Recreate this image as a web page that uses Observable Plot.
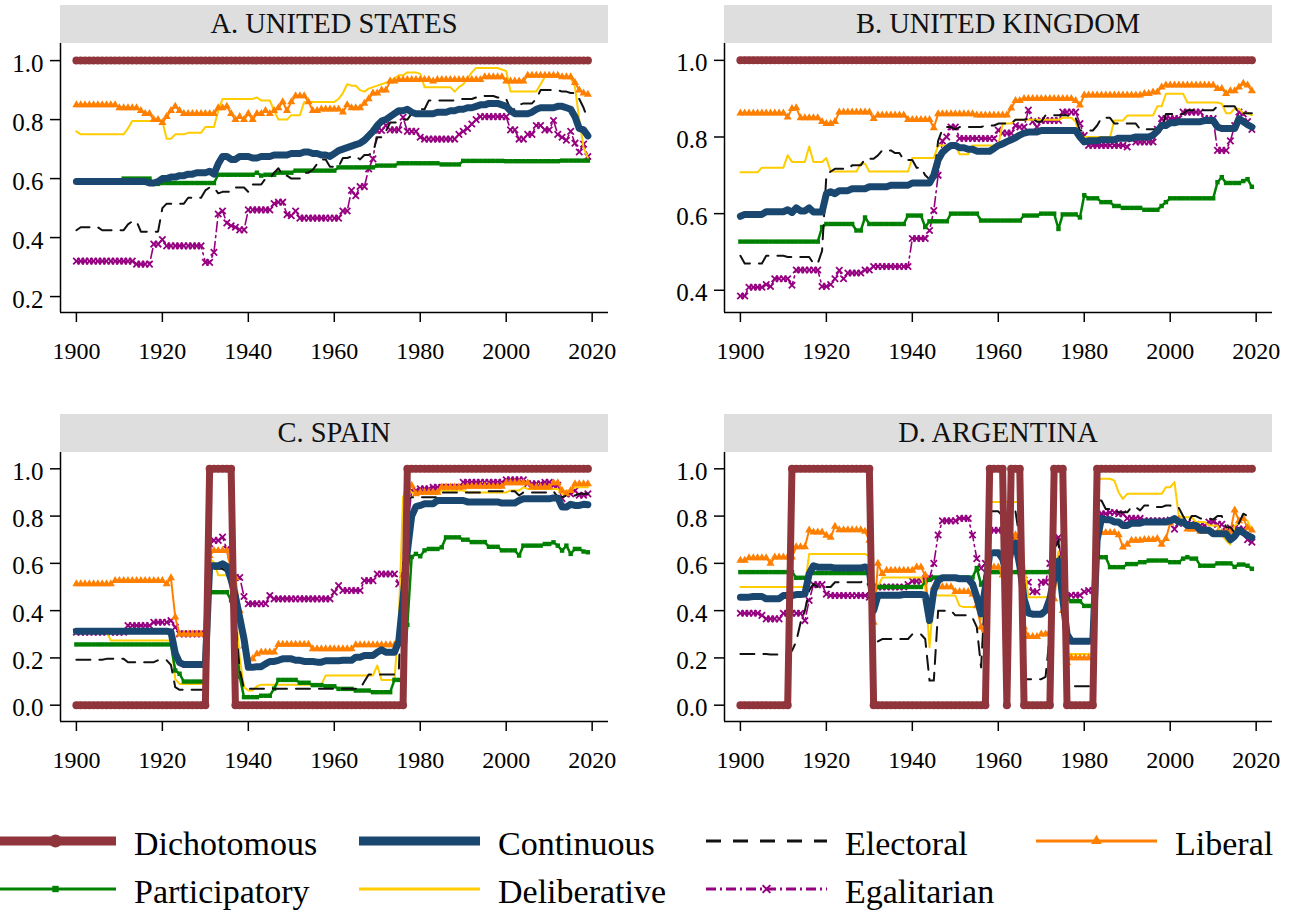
<!DOCTYPE html>
<html>
<head>
<meta charset="utf-8">
<script src="https://cdn.jsdelivr.net/npm/d3@7"></script>
<script src="https://cdn.jsdelivr.net/npm/@observablehq/plot@0.6"></script>
<style>
  html, body { margin: 0; padding: 0; background: #fff; }
  #chart { position: relative; width: 1300px; height: 913px; overflow: hidden;
           font-family: "Liberation Serif", "Times New Roman", serif; }
  #chart svg, #chart svg text { font-family: "Liberation Serif", "Times New Roman", serif !important; }
  .strip { position: absolute; height: 38px; line-height: 38px; background: #dedede;
           color: #111; text-align: center; font-size: 28.5px; }
  .panel { position: absolute; }
  .panel svg { overflow: visible; }
</style>
</head>
<body>
<div id="chart"></div>
<script>
// ---- Measures of democracy, 1900-2019 ----
// Each series is a list of runs: [first year of the run, index value held through that run].
const firstYear = 1900, lastYear = 2019;
const seriesNames = ["Dichotomous", "Continuous", "Electoral", "Liberal", "Participatory", "Deliberative", "Egalitarian"];
const panelTitles = ["A. UNITED STATES", "B. UNITED KINGDOM", "C. SPAIN", "D. ARGENTINA"];
const xTicks = [1900, 1920, 1940, 1960, 1980, 2000, 2020];
const yTicksA = [0.2, 0.4, 0.6, 0.8, 1.0];
const yTicksB = [0.4, 0.6, 0.8, 1.0];
const yTicksCD = [0, 0.2, 0.4, 0.6, 0.8, 1.0];

// United States
const usDichotomous = [[1900, 1]];
const usContinuous = [[1900,.59],[1917,.585],[1919,.59],[1920,.60],[1922,.605],[1924,.61],[1926,.615],[1928,.62],[1931,.625],[1932,.615],[1933,.65],[1934,.675],[1936,.665],[1938,.675],[1941,.67],[1943,.675],[1946,.68],[1950,.685],[1953,.69],[1955,.685],[1957,.68],[1959,.675],[1960,.685],[1961,.695],[1962,.70],[1963,.705],[1964,.71],[1965,.715],[1966,.72],[1967,.73],[1968,.745],[1969,.76],[1970,.78],[1971,.795],[1972,.80],[1973,.81],[1974,.82],[1975,.83],[1977,.835],[1978,.825],[1979,.82],[1984,.825],[1987,.83],[1989,.835],[1991,.84],[1993,.845],[1994,.85],[1996,.855],[1999,.85],[2000,.845],[2001,.83],[2002,.82],[2006,.825],[2007,.835],[2008,.84],[2012,.845],[2014,.84],[2015,.835],[2016,.81],[2017,.77],[2018,.765],[2019,.745]];
const usElectoral = [[1900,.425],[1901,.435],[1906,.425],[1912,.445],[1913,.455],[1915,.42],[1920,.50],[1921,.515],[1926,.535],[1930,.56],[1931,.57],[1933,.55],[1934,.555],[1937,.57],[1940,.555],[1941,.58],[1944,.60],[1946,.62],[1947,.635],[1948,.61],[1950,.60],[1953,.62],[1955,.63],[1956,.65],[1957,.665],[1959,.64],[1962,.67],[1964,.675],[1966,.665],[1967,.68],[1969,.69],[1970,.74],[1972,.76],[1973,.79],[1976,.80],[1978,.82],[1980,.835],[1982,.865],[1987,.865],[1989,.87],[1993,.875],[1995,.88],[1998,.875],[2000,.87],[2001,.835],[2003,.85],[2004,.855],[2007,.87],[2008,.90],[2013,.895],[2015,.89],[2017,.87],[2018,.84],[2019,.80]];
const usLiberal = [[1900,.85],[1910,.84],[1915,.83],[1916,.82],[1918,.80],[1920,.79],[1921,.81],[1922,.83],[1923,.845],[1924,.83],[1925,.82],[1933,.84],[1935,.845],[1936,.82],[1937,.80],[1938,.81],[1939,.80],[1940,.82],[1941,.80],[1942,.82],[1944,.83],[1945,.82],[1946,.83],[1947,.84],[1948,.86],[1949,.83],[1950,.86],[1951,.88],[1954,.86],[1955,.83],[1957,.835],[1962,.825],[1963,.85],[1964,.84],[1967,.855],[1968,.87],[1969,.89],[1971,.90],[1973,.93],[1975,.935],[1983,.93],[1984,.935],[1995,.945],[2000,.93],[2005,.95],[2013,.945],[2016,.925],[2017,.90],[2018,.89],[2019,.885]];
const usParticipatory = [[1900,.59],[1911,.60],[1918,.582],[1920,.585],[1933,.613],[1942,.62],[1943,.61],[1944,.613],[1947,.62],[1951,.627],[1961,.638],[1970,.644],[1975,.652],[1985,.648],[1990,.66],[2000,.659],[2013,.661]];
const usDeliberative = [[1900,.76],[1901,.75],[1912,.77],[1913,.795],[1921,.735],[1923,.75],[1926,.755],[1930,.775],[1933,.83],[1934,.87],[1942,.875],[1943,.865],[1946,.83],[1947,.80],[1950,.815],[1953,.86],[1961,.87],[1962,.89],[1963,.92],[1964,.915],[1966,.90],[1967,.895],[1968,.905],[1969,.91],[1970,.915],[1971,.92],[1972,.925],[1973,.93],[1974,.94],[1975,.95],[1977,.96],[1980,.955],[1981,.91],[1988,.895],[1989,.91],[1990,.92],[1991,.94],[1992,.96],[1993,.975],[1999,.97],[2000,.965],[2001,.895],[2008,.92],[2009,.945],[2015,.94],[2016,.91],[2017,.80],[2018,.705],[2019,.67]];
const usEgalitarian = [[1900,.32],[1914,.31],[1918,.378],[1920,.393],[1921,.372],[1930,.316],[1932,.35],[1933,.48],[1934,.49],[1935,.45],[1936,.44],[1937,.435],[1938,.426],[1940,.494],[1946,.515],[1947,.52],[1949,.478],[1950,.474],[1951,.49],[1952,.466],[1962,.49],[1964,.56],[1965,.542],[1966,.573],[1968,.633],[1969,.667],[1970,.763],[1972,.78],[1973,.765],[1976,.808],[1977,.76],[1980,.74],[1981,.734],[1989,.75],[1990,.76],[1991,.77],[1992,.785],[1993,.80],[1994,.81],[2001,.765],[2003,.734],[2005,.75],[2007,.78],[2009,.765],[2011,.797],[2012,.75],[2013,.74],[2014,.73],[2015,.76],[2016,.72],[2017,.69],[2018,.717],[2019,.675]];

// United Kingdom
const ukDichotomous = [[1900, 1]];
const ukContinuous = [[1900,.593],[1901,.598],[1906,.605],[1911,.61],[1912,.603],[1913,.615],[1914,.607],[1916,.615],[1917,.604],[1920,.652],[1921,.657],[1922,.652],[1923,.66],[1926,.665],[1930,.67],[1935,.674],[1940,.68],[1945,.70],[1946,.74],[1947,.76],[1948,.77],[1949,.778],[1951,.772],[1953,.768],[1955,.763],[1959,.77],[1960,.778],[1961,.782],[1962,.788],[1963,.793],[1964,.798],[1965,.805],[1966,.81],[1967,.813],[1970,.817],[1979,.80],[1980,.787],[1981,.79],[1984,.793],[1988,.797],[1992,.80],[1996,.805],[1997,.815],[1998,.83],[2000,.837],[2002,.84],[2008,.843],[2011,.826],[2012,.822],[2016,.848],[2017,.84],[2018,.832],[2019,.826]];
const ukElectoral = [[1900,.49],[1901,.47],[1906,.49],[1911,.487],[1917,.47],[1919,.503],[1920,.70],[1921,.71],[1922,.717],[1926,.726],[1929,.743],[1932,.752],[1933,.765],[1936,.758],[1938,.74],[1941,.72],[1943,.70],[1944,.69],[1946,.79],[1947,.82],[1948,.826],[1950,.82],[1951,.826],[1957,.83],[1960,.835],[1964,.845],[1967,.848],[1969,.84],[1971,.857],[1977,.85],[1979,.817],[1983,.83],[1984,.85],[1987,.835],[1993,.82],[1999,.86],[2004,.87],[2011,.88],[2016,.862]];
const ukLiberal = [[1900,.862],[1911,.852],[1912,.874],[1913,.876],[1914,.85],[1919,.84],[1920,.835],[1922,.84],[1923,.865],[1931,.848],[1932,.857],[1939,.845],[1945,.824],[1946,.86],[1955,.857],[1963,.875],[1964,.895],[1966,.90],[1978,.895],[1979,.883],[1980,.909],[1994,.913],[1996,.917],[1998,.93],[1999,.935],[2011,.926],[2013,.913],[2014,.92],[2016,.93],[2017,.94],[2018,.935],[2019,.92]];
const ukParticipatory = [[1900,.527],[1919,.565],[1920,.573],[1927,.556],[1929,.59],[1930,.573],[1939,.595],[1943,.565],[1944,.58],[1949,.60],[1956,.582],[1966,.595],[1970,.60],[1974,.56],[1975,.598],[1979,.59],[1980,.648],[1981,.64],[1984,.63],[1987,.62],[1989,.615],[1994,.61],[1998,.62],[1999,.63],[2000,.64],[2011,.682],[2012,.695],[2013,.68],[2017,.685],[2018,.69],[2019,.67]];
const ukDeliberative = [[1900,.708],[1905,.72],[1911,.752],[1912,.735],[1916,.775],[1917,.735],[1920,.745],[1921,.71],[1928,.73],[1930,.71],[1940,.745],[1946,.778],[1951,.755],[1954,.778],[1961,.835],[1964,.845],[1975,.85],[1978,.84],[1979,.80],[1987,.843],[1990,.856],[1997,.88],[1999,.913],[2004,.89],[2012,.887],[2013,.862],[2015,.874],[2017,.862],[2019,.857]];
const ukEgalitarian = [[1900,.385],[1902,.408],[1906,.415],[1907,.41],[1908,.43],[1912,.413],[1913,.453],[1919,.41],[1921,.415],[1922,.43],[1923,.452],[1924,.43],[1925,.445],[1929,.453],[1931,.462],[1940,.535],[1944,.556],[1945,.608],[1946,.70],[1947,.79],[1948,.80],[1949,.826],[1951,.796],[1960,.818],[1961,.81],[1964,.83],[1965,.826],[1967,.87],[1968,.84],[1969,.826],[1970,.843],[1975,.865],[1979,.835],[1980,.804],[1981,.778],[1990,.774],[1991,.795],[1992,.787],[1997,.82],[1998,.848],[2003,.865],[2008,.848],[2011,.765],[2014,.79],[2015,.83],[2016,.865],[2017,.86],[2018,.84],[2019,.82]];

// Spain
const esDichotomous = [[1900,0],[1931,1],[1937,0],[1977,1]];
const esContinuous = [[1900,.313],[1922,.31],[1923,.22],[1924,.18],[1925,.172],[1931,.59],[1934,.598],[1935,.587],[1936,.53],[1937,.46],[1938,.37],[1939,.28],[1940,.16],[1942,.163],[1944,.175],[1945,.185],[1947,.19],[1948,.196],[1951,.19],[1953,.185],[1956,.182],[1958,.188],[1962,.19],[1965,.203],[1967,.21],[1970,.224],[1971,.234],[1972,.224],[1975,.27],[1976,.45],[1977,.65],[1978,.80],[1979,.84],[1980,.845],[1981,.852],[1984,.866],[1991,.86],[1999,.855],[2003,.866],[2004,.873],[2011,.877],[2013,.838],[2015,.85],[2016,.845],[2018,.85],[2019,.848]];
const esElectoral = [[1900,.192],[1907,.196],[1912,.182],[1919,.19],[1922,.17],[1923,.076],[1924,.065],[1931,.57],[1932,.577],[1935,.565],[1936,.50],[1937,.35],[1938,.15],[1939,.07],[1967,.10],[1968,.13],[1975,.14],[1976,.60],[1977,.866],[1978,.88],[1985,.90],[1996,.905],[2003,.887],[2004,.90],[2011,.905],[2012,.88],[2014,.887],[2017,.894]];
const esLiberal = [[1900,.513],[1909,.527],[1921,.513],[1922,.538],[1923,.372],[1924,.30],[1931,.633],[1932,.654],[1936,.57],[1937,.54],[1938,.40],[1939,.25],[1940,.196],[1942,.217],[1943,.224],[1947,.257],[1955,.238],[1965,.255],[1975,.262],[1976,.55],[1977,.908],[1978,.93],[1979,.894],[1980,.90],[1985,.922],[1991,.925],[2000,.94],[2006,.922],[2011,.94],[2013,.908],[2014,.894],[2015,.908],[2016,.936]];
const esParticipatory = [[1900,.257],[1923,.147],[1924,.133],[1925,.10],[1931,.478],[1936,.443],[1937,.30],[1938,.12],[1939,.034],[1943,.04],[1946,.07],[1947,.107],[1952,.095],[1955,.085],[1958,.08],[1961,.069],[1965,.062],[1969,.055],[1974,.107],[1977,.34],[1978,.627],[1979,.64],[1980,.63],[1981,.655],[1982,.661],[1985,.668],[1986,.71],[1990,.70],[1992,.69],[1996,.67],[1999,.655],[2003,.633],[2004,.675],[2009,.682],[2011,.689],[2012,.675],[2013,.654],[2014,.675],[2015,.64],[2016,.661],[2018,.65],[2019,.647]];
const esDeliberative = [[1900,.31],[1908,.274],[1923,.11],[1924,.09],[1931,.62],[1932,.605],[1933,.55],[1936,.527],[1937,.40],[1938,.20],[1939,.076],[1940,.062],[1942,.08],[1943,.087],[1958,.126],[1970,.168],[1971,.107],[1975,.35],[1976,.88],[1977,.922],[1978,.90],[1979,.894],[1985,.908],[1991,.90],[2001,.908],[2004,.922],[2005,.915],[2013,.894],[2014,.908],[2016,.922]];
const esEgalitarian = [[1900,.309],[1912,.337],[1918,.351],[1922,.358],[1923,.33],[1924,.302],[1931,.683],[1932,.697],[1934,.711],[1935,.66],[1936,.56],[1937,.54],[1939,.46],[1940,.429],[1945,.464],[1946,.45],[1960,.478],[1961,.506],[1962,.485],[1967,.527],[1970,.555],[1975,.513],[1976,.55],[1977,.74],[1978,.908],[1980,.915],[1983,.922],[1990,.943],[2000,.953],[2005,.937],[2009,.943],[2011,.93],[2013,.874],[2014,.894],[2016,.908],[2017,.888],[2019,.894]];

// Argentina
const arDichotomous = [[1900,0],[1912,1],[1931,0],[1958,1],[1962,0],[1963,1],[1966,0],[1973,1],[1976,0],[1983,1]];
const arContinuous = [[1900,.457],[1903,.46],[1906,.45],[1910,.464],[1913,.468],[1915,.47],[1916,.556],[1917,.59],[1918,.584],[1922,.58],[1929,.585],[1930,.575],[1931,.40],[1932,.465],[1938,.468],[1943,.465],[1944,.358],[1945,.485],[1946,.527],[1947,.539],[1951,.535],[1954,.513],[1955,.457],[1956,.386],[1957,.50],[1958,.64],[1959,.645],[1961,.62],[1962,.55],[1963,.66],[1964,.685],[1965,.59],[1966,.45],[1967,.39],[1968,.385],[1971,.40],[1972,.45],[1973,.54],[1974,.61],[1975,.45],[1976,.30],[1977,.27],[1982,.275],[1983,.70],[1984,.79],[1985,.785],[1987,.775],[1989,.76],[1991,.77],[1994,.775],[2000,.78],[2001,.79],[2002,.775],[2004,.76],[2007,.74],[2010,.725],[2014,.70],[2015,.715],[2016,.74],[2017,.73],[2018,.718],[2019,.71]];
const arElectoral = [[1900,.217],[1907,.214],[1912,.23],[1913,.27],[1914,.35],[1915,.40],[1916,.485],[1917,.513],[1918,.50],[1922,.52],[1929,.53],[1930,.50],[1931,.25],[1932,.27],[1933,.28],[1940,.30],[1943,.28],[1944,.104],[1946,.40],[1950,.38],[1954,.37],[1955,.33],[1956,.16],[1957,.50],[1958,.82],[1961,.80],[1962,.60],[1963,.80],[1964,.82],[1965,.70],[1966,.11],[1971,.12],[1972,.30],[1973,.65],[1974,.70],[1975,.40],[1976,.08],[1983,.866],[1985,.83],[1988,.816],[1991,.838],[1993,.824],[1994,.845],[1996,.838],[1999,.845],[2001,.835],[2003,.80],[2004,.767],[2005,.80],[2007,.79],[2010,.785],[2011,.80],[2013,.753],[2015,.73],[2016,.77],[2017,.81],[2018,.80],[2019,.795]];
const arLiberal = [[1900,.612],[1902,.623],[1907,.60],[1908,.626],[1913,.67],[1916,.74],[1917,.732],[1920,.718],[1921,.71],[1922,.756],[1923,.742],[1929,.735],[1930,.697],[1931,.35],[1932,.60],[1933,.556],[1934,.57],[1941,.584],[1943,.55],[1944,.365],[1945,.50],[1950,.48],[1954,.47],[1955,.42],[1956,.33],[1957,.27],[1958,.584],[1961,.55],[1962,.45],[1963,.65],[1964,.72],[1965,.60],[1966,.33],[1967,.29],[1970,.30],[1972,.31],[1973,.45],[1974,.60],[1975,.40],[1976,.18],[1977,.20],[1983,.73],[1988,.72],[1989,.668],[1990,.68],[1991,.697],[1994,.70],[1997,.705],[1998,.68],[1999,.705],[2000,.77],[2001,.785],[2003,.77],[2004,.745],[2007,.735],[2010,.73],[2013,.735],[2015,.825],[2016,.78],[2017,.79],[2018,.75],[2019,.74]];
const arParticipatory = [[1900,.563],[1913,.539],[1916,.559],[1931,.50],[1943,.52],[1944,.53],[1945,.54],[1955,.58],[1956,.51],[1957,.54],[1958,.563],[1975,.50],[1976,.45],[1977,.44],[1980,.42],[1983,.626],[1985,.626],[1986,.584],[1990,.597],[1993,.605],[1995,.612],[2000,.605],[2003,.62],[2004,.626],[2005,.62],[2007,.59],[2011,.60],[2015,.585],[2016,.595],[2018,.59],[2019,.577]];
const arDeliberative = [[1900,.50],[1916,.64],[1930,.63],[1931,.457],[1932,.50],[1933,.54],[1943,.50],[1944,.245],[1945,.47],[1946,.464],[1951,.42],[1952,.415],[1956,.36],[1957,.50],[1958,.86],[1966,.60],[1967,.457],[1972,.46],[1973,.55],[1974,.65],[1975,.52],[1976,.217],[1983,.95],[1984,.958],[1987,.95],[1988,.90],[1989,.873],[1990,.894],[1999,.922],[2001,.944],[2002,.80],[2003,.795],[2006,.775],[2009,.76],[2012,.72],[2013,.697],[2014,.68],[2015,.76],[2016,.77],[2017,.79],[2018,.78],[2019,.74]];
const arEgalitarian = [[1900,.389],[1905,.38],[1906,.365],[1910,.389],[1915,.358],[1916,.443],[1917,.51],[1920,.47],[1921,.464],[1930,.457],[1931,.50],[1939,.51],[1940,.525],[1943,.535],[1944,.539],[1945,.60],[1946,.72],[1947,.78],[1951,.79],[1954,.72],[1955,.62],[1956,.58],[1957,.60],[1958,.74],[1962,.72],[1963,.70],[1964,.704],[1965,.62],[1966,.55],[1967,.52],[1968,.48],[1970,.52],[1972,.60],[1973,.70],[1974,.71],[1975,.55],[1976,.46],[1977,.465],[1980,.48],[1981,.485],[1983,.81],[1986,.815],[1988,.81],[1990,.79],[1994,.78],[2000,.783],[2001,.745],[2002,.77],[2005,.765],[2007,.76],[2009,.775],[2011,.765],[2013,.735],[2014,.75],[2016,.745],[2018,.70],[2019,.69]];

// ---- helpers ----
// expand a run list into one record per year
function yearly(runs) {
  const out = [];
  runs.forEach(([y0, v], i) => {
    const y1 = i + 1 < runs.length ? runs[i + 1][0] : lastYear + 1;
    for (let y = y0; y < y1; ++y) out.push({year: y, value: v});
  });
  return out;
}

const serif = "'Liberation Serif', 'Times New Roman', serif";
const styles = {
  Dichotomous:   {color: "#90353b", width: 7, marker: {symbol: "circle", r: 4, fill: true, legendR: 6.5}},
  Continuous:    {color: "#1a476f", width: 7},
  Electoral:     {color: "#111111", width: 2, dash: "14,9"},
  Liberal:       {color: "#ff7f00", width: 2, marker: {symbol: "triangle", r: 3, fill: true, legendR: 4}},
  Participatory: {color: "#008000", width: 2.5, marker: {symbol: "square", r: 2.5, fill: true, legendR: 3.6}},
  Deliberative:  {color: "#ffcc00", width: 2},
  Egalitarian:   {color: "#960080", width: 1.6, dash: "10,4,2,4", marker: {symbol: "times", r: 3, fill: false, legendR: 3.6}}
};

const panels = [
  {title: panelTitles[0], left: 0,   top: 5,   ticks: yTicksA,  domain: [0.146, 1.058],
   data: [usDichotomous, usContinuous, usElectoral, usLiberal, usParticipatory, usDeliberative, usEgalitarian]},
  {title: panelTitles[1], left: 664, top: 5,   ticks: yTicksB,  domain: [0.342, 1.044],
   data: [ukDichotomous, ukContinuous, ukElectoral, ukLiberal, ukParticipatory, ukDeliberative, ukEgalitarian]},
  {title: panelTitles[2], left: 0,   top: 414, ticks: yTicksCD, domain: [-0.069, 1.069],
   data: [esDichotomous, esContinuous, esElectoral, esLiberal, esParticipatory, esDeliberative, esEgalitarian]},
  {title: panelTitles[3], left: 664, top: 414, ticks: yTicksCD, domain: [-0.069, 1.069],
   data: [arDichotomous, arContinuous, arElectoral, arLiberal, arParticipatory, arDeliberative, arEgalitarian]}
];

const chart = document.getElementById("chart");
const xDomain = [1896.3, 2023.8];
const W = 620, mL = 60, mR = 12, mT = 10, mB = 60, plotH = 269, stripH = 38;

for (const p of panels) {
  // title strip above the plotting area
  const strip = document.createElement("div");
  strip.className = "strip";
  strip.style.left = (p.left + mL) + "px";
  strip.style.top = p.top + "px";
  strip.style.width = (W - mL - mR) + "px";
  strip.textContent = p.title;
  chart.appendChild(strip);

  // thin series first, continuous and dichotomous measures on top
  const marks = [];
  for (let i = seriesNames.length - 1; i >= 0; --i) {
    const name = seriesNames[i];
    const s = styles[name];
    const rows = yearly(p.data[i]);
    marks.push(Plot.line(rows, {x: "year", y: "value", stroke: s.color, strokeWidth: s.width,
      strokeDasharray: s.dash, strokeLinejoin: "round", strokeLinecap: "round"}));
    if (s.marker) {
      const m = s.marker;
      marks.push(Plot.dot(rows, m.fill
        ? {x: "year", y: "value", symbol: m.symbol, r: m.r, fill: s.color, stroke: "none"}
        : {x: "year", y: "value", symbol: m.symbol, r: m.r, fill: "none", stroke: s.color, strokeWidth: 1.8}));
    }
  }

  const svg = Plot.plot({
    width: W, height: mT + plotH + mB,
    marginLeft: mL, marginRight: mR, marginTop: mT, marginBottom: mB,
    x: {domain: xDomain},
    y: {domain: p.domain},
    style: {fontFamily: serif, fontSize: "25px", color: "#000", background: "transparent", overflow: "visible"},
    marks: [
      // y ticks, then their labels sitting slightly below each tick
      Plot.axisY({ticks: p.ticks, tickSize: 10, tickFormat: () => "", strokeWidth: 1.5, label: null}),
      Plot.axisY({ticks: p.ticks, tickSize: 0, tickPadding: 17, tickFormat: d3.format(".1f"),
                  fontSize: 25, dy: 3, label: null}),
      Plot.axisX({ticks: xTicks, tickFormat: d => String(d), tickSize: 10, tickPadding: 19, strokeWidth: 1.5,
                  fontSize: 24, label: null}),
      Plot.ruleX([xDomain[0]], {stroke: "#000", strokeWidth: 1.5}),
      Plot.ruleY([p.domain[0]], {stroke: "#000", strokeWidth: 1.5}),
      ...marks
    ]
  });
  const holder = document.createElement("div");
  holder.className = "panel";
  holder.style.left = p.left + "px";
  holder.style.top = (p.top + stripH - mT) + "px";
  holder.appendChild(svg);
  chart.appendChild(holder);
}

// ---- legend: two rows of four columns ----
const legendTop = 800;
const legend = d3.select(chart).append("svg")
  .attr("width", 1300).attr("height", 113)
  .attr("font-family", serif)
  .style("position", "absolute").style("left", "0px").style("top", legendTop + "px");
const colX = [-5, 359, 706, 1036];
const rowY = [41, 89];
const symLen = 121;
seriesNames.forEach((name, i) => {
  const s = styles[name];
  const x0 = colX[i % 4], y = rowY[Math.floor(i / 4)];
  const g = legend.append("g");
  g.append("line").attr("x1", x0).attr("x2", x0 + symLen).attr("y1", y).attr("y2", y)
    .attr("stroke", s.color)
    .attr("stroke-width", name === "Dichotomous" || name === "Continuous" ? 9 : 3)
    .attr("stroke-dasharray", name === "Electoral" ? "15,12" : s.dash || null);
  if (s.marker) {
    const sym = {circle: d3.symbolCircle, triangle: d3.symbolTriangle, square: d3.symbolSquare, times: d3.symbolTimes}[s.marker.symbol];
    const r = s.marker.legendR;
    const path = g.append("path").attr("transform", `translate(${x0 + symLen / 2},${y})`)
      .attr("d", d3.symbol(sym, Math.PI * r * r)());
    if (s.marker.fill) path.attr("fill", s.color);
    else path.attr("fill", "none").attr("stroke", s.color).attr("stroke-width", 2);
  }
  g.append("text").attr("x", x0 + 139).attr("y", y + 14).attr("font-size", 34)
    .attr("font-family", serif).attr("fill", "#000").text(name);
});
</script>
</body>
</html>
